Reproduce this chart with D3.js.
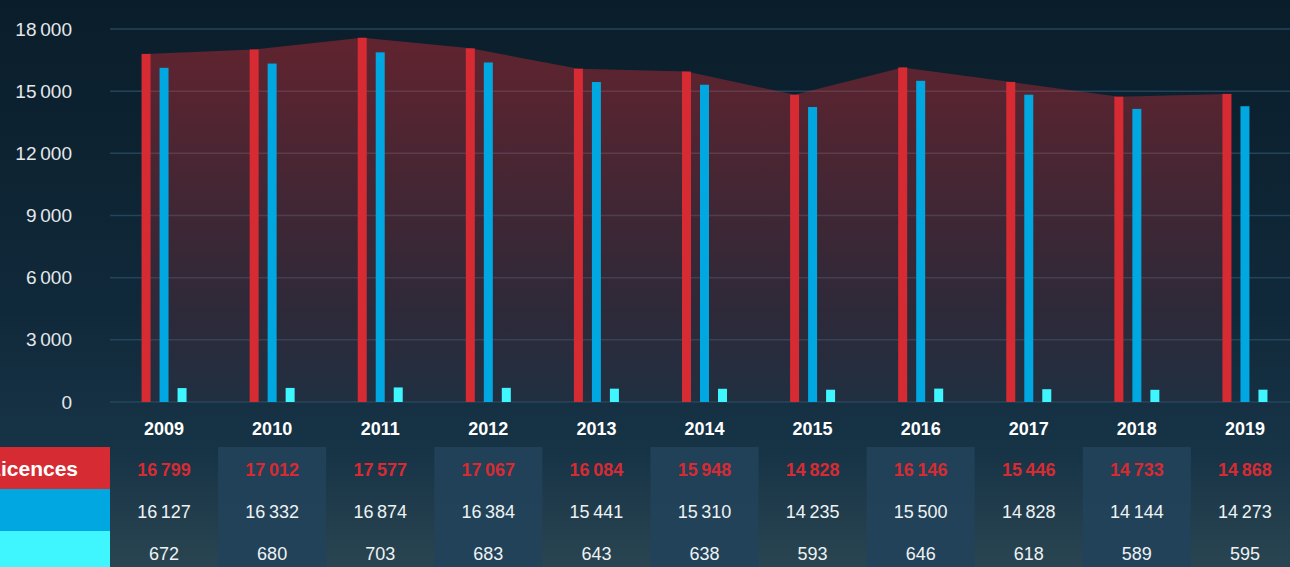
<!DOCTYPE html>
<html>
<head>
<meta charset="utf-8">
<script src="https://cdn.jsdelivr.net/npm/d3@7"></script>
<style>
  html, body { margin: 0; padding: 0; background: #0b1f2d; overflow: hidden; }
  svg { display: block; font-family: "Liberation Sans", Arial, sans-serif; }
</style>
</head>
<body>
<div id="chart"></div>
<script>
var years = ["2009", "2010", "2011", "2012", "2013", "2014", "2015", "2016", "2017", "2018", "2019"];
var licences = [16799, 17012, 17577, 17067, 16084, 15948, 14828, 16146, 15446, 14733, 14868];
var series2 = [16127, 16332, 16874, 16384, 15441, 15310, 14235, 15500, 14828, 14144, 14273];
var series3 = [672, 680, 703, 683, 643, 638, 593, 646, 618, 589, 595];
var yTicks = [0, 3000, 6000, 9000, 12000, 15000, 18000];
var rowLabels = ["Licences", "", ""];
var rowColors = ["#d72b33", "#00a7e1", "#3ff6ff"];

var WIDTH = 1290, HEIGHT = 567;

var locale = d3.formatLocale({ decimal: ".", thousands: "\u2009", grouping: [3], currency: ["", ""] });
var fmt = locale.format(",d");

var svg = d3.select("#chart").append("svg")
    .attr("width", WIDTH)
    .attr("height", HEIGHT);

var defs = svg.append("defs");

// fond
var bg = defs.append("linearGradient").attr("id", "bg")
    .attr("x1", 0).attr("y1", 0).attr("x2", 0).attr("y2", 1);
bg.append("stop").attr("offset", "0%").attr("stop-color", "#0a1d2a");
bg.append("stop").attr("offset", "55%").attr("stop-color", "#10293a");
bg.append("stop").attr("offset", "80%").attr("stop-color", "#173447");
bg.append("stop").attr("offset", "100%").attr("stop-color", "#2a4551");

var areaGrad = defs.append("linearGradient").attr("id", "areaGrad")
    .attr("x1", 0).attr("y1", 0).attr("x2", 0).attr("y2", 1);
areaGrad.append("stop").attr("offset", "0%").attr("stop-color", "#d72b33").attr("stop-opacity", 0.42);
areaGrad.append("stop").attr("offset", "100%").attr("stop-color", "#d72b33").attr("stop-opacity", 0.06);

svg.append("rect").attr("width", WIDTH).attr("height", HEIGHT).attr("fill", "url(#bg)");

var x = d3.scaleBand().domain(years).range([110, 1299]).padding(0);
var y = d3.scaleLinear().domain([0, 18000]).range([402, 29]);

var inner = d3.scaleBand().domain([0, 1, 2])
    .range([x.bandwidth() / 2 - 22.5, x.bandwidth() / 2 + 22.5])
    .paddingInner(0.5).paddingOuter(0);

// grille
svg.append("g").selectAll("line")
    .data(yTicks).enter()
    .append("line")
    .attr("x1", 110).attr("x2", WIDTH)
    .attr("y1", function (d) { return y(d); })
    .attr("y2", function (d) { return y(d); })
    .attr("stroke", "#234459")
    .attr("stroke-width", 1.5);

// axe y
var yAxis = svg.append("g")
    .attr("transform", "translate(72,0)")
    .call(d3.axisLeft(y).tickValues(yTicks).tickFormat(fmt).tickSize(0).tickPadding(0));
yAxis.select(".domain").remove();
yAxis.selectAll("text")
    .attr("fill", "#e4e8ea")
    .style("font-size", "19px")
    .style("font-family", "\"Liberation Sans\", Arial, sans-serif");

// aire
var area = d3.area()
    .x(function (d, i) { return x(years[i]) + inner(0) + inner.bandwidth() / 2; })
    .y0(y(0))
    .y1(function (d) { return y(d); });

svg.append("path")
    .datum(licences)
    .attr("d", area)
    .attr("fill", "url(#areaGrad)");

// barres
var series = [licences, series2, series3];
series.forEach(function (values, s) {
    svg.append("g").selectAll("rect")
        .data(values).enter()
        .append("rect")
        .attr("x", function (d, i) { return x(years[i]) + inner(s); })
        .attr("width", inner.bandwidth())
        .attr("y", function (d) { return y(d); })
        .attr("height", function (d) { return y(0) - y(d); })
        .attr("fill", rowColors[s]);
});

// années
svg.append("g").selectAll("text")
    .data(years).enter()
    .append("text")
    .attr("x", function (d) { return x(d) + x.bandwidth() / 2; })
    .attr("y", 429)
    .attr("dy", "0.35em")
    .attr("text-anchor", "middle")
    .attr("fill", "#ffffff")
    .style("font-size", "18px")
    .style("font-weight", "bold")
    .text(function (d) { return d; });

// tableau
var rowTop = [447, 489, 531];
var rowH = 42;

svg.append("g").selectAll("rect")
    .data(years.filter(function (d, i) { return i % 2 === 1; })).enter()
    .append("rect")
    .attr("x", function (d) { return x(d); })
    .attr("width", x.bandwidth())
    .attr("y", rowTop[0])
    .attr("height", HEIGHT - rowTop[0])
    .attr("fill", "#21425a")
    .attr("fill-opacity", 0.9);

svg.append("g").selectAll("rect")
    .data(rowColors).enter()
    .append("rect")
    .attr("x", 0)
    .attr("width", 110)
    .attr("y", function (d, i) { return rowTop[i]; })
    .attr("height", rowH)
    .attr("fill", function (d) { return d; });

// libellé coupé à gauche comme sur l'original
svg.append("g").selectAll("text")
    .data(rowLabels).enter()
    .append("text")
    .attr("x", 78)
    .attr("y", function (d, i) { return rowTop[i] + rowH / 2 + 1; })
    .attr("dy", "0.35em")
    .attr("text-anchor", "end")
    .attr("fill", "#ffffff")
    .style("font-size", "21px")
    .style("font-weight", "bold")
    .text(function (d) { return d; });

series.forEach(function (values, s) {
    svg.append("g").selectAll("text")
        .data(values).enter()
        .append("text")
        .attr("x", function (d, i) { return x(years[i]) + x.bandwidth() / 2; })
        .attr("y", rowTop[s] + rowH / 2 + 2)
        .attr("dy", "0.35em")
        .attr("text-anchor", "middle")
        .attr("fill", s === 0 ? "#d72b33" : "#eef2f4")
        .style("font-size", "18px")
        .style("font-weight", s === 0 ? "bold" : "normal")
        .text(function (d) { return fmt(d); });
});
</script>
</body>
</html>
